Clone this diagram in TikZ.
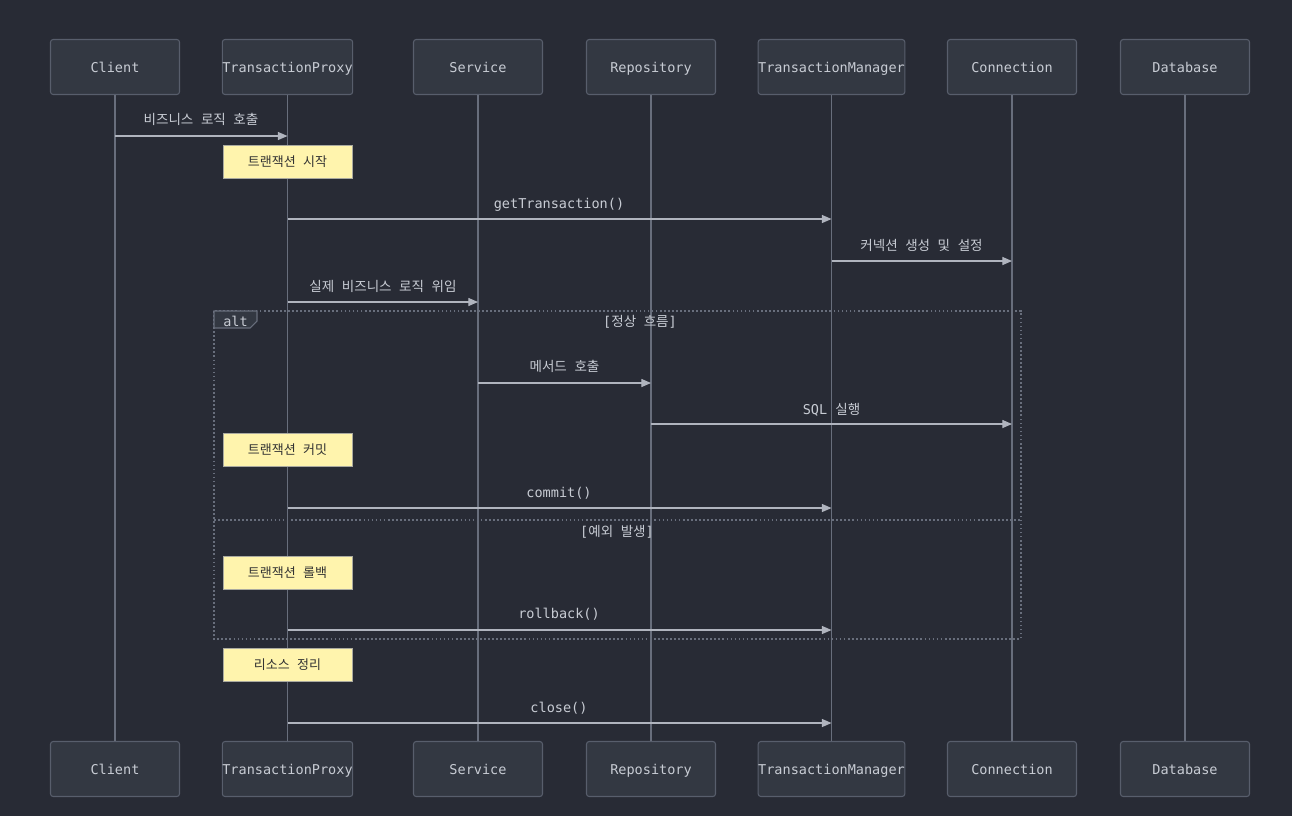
\documentclass[tikz,border=0pt]{standalone}
\usepackage{fontspec}
\setmonofont{DejaVu Sans Mono}
\newfontfamily\kr[WordSpace=2.5]{Noto Sans CJK KR}
\usepackage{xcolor}
\usetikzlibrary{positioning,arrows.meta}

\definecolor{bgc}{RGB}{40,43,53}
\definecolor{actorfill}{RGB}{51,56,66}
\definecolor{actorline}{RGB}{88,94,108}
\definecolor{lifeline}{RGB}{104,110,124}
\definecolor{msgline}{RGB}{176,180,190}
\definecolor{textc}{RGB}{200,204,212}
\definecolor{notefill}{RGB}{255,244,173}
\definecolor{notebd}{RGB}{170,170,160}
\definecolor{notetext}{RGB}{51,51,51}

\begin{document}
\begin{tikzpicture}[
    x=0.02cm, y=-0.02cm,
    actor/.style={rectangle, rounded corners=1.5pt, draw=actorline, fill=actorfill, line width=0.6pt, minimum width=2.58cm, minimum height=1.1cm, inner sep=0pt, text height=1.55ex, text depth=0pt, text=textc, font=\ttfamily\fontsize{7.7}{9}\selectfont},
    life/.style={draw=lifeline, line width=0.6pt},
    msg/.style={draw=msgline, line width=0.6pt, -{Triangle[length=5.5pt,width=4.6pt]}},
    msglabel/.style={inner sep=0pt, text=textc, font=\ttfamily\fontsize{7.7}{9}\selectfont},
    note/.style={rectangle, draw=notebd, fill=notefill, line width=0.5pt, minimum width=2.58cm, minimum height=0.66cm, inner sep=0pt, text=notetext, font=\kr\fontsize{7.4}{9}\selectfont},
    frame/.style={draw=lifeline, line width=0.7pt, dash pattern=on 1pt off 1.3pt}
]
    \fill[bgc] (0,0) rectangle (1292,816);

    % participants
    \node[actor] (client) at (115,67) {Client};
    \node[actor] (proxy) at (287.5,67) {TransactionProxy};
    \node[actor] (service) at (478,67) {Service};
    \node[actor] (repo) at (651,67) {Repository};
    \node[actor, minimum width=2.9cm] (tm) at (831.5,67) {TransactionManager};
    \node[actor] (conn) at (1012,67) {Connection};
    \node[actor] (db) at (1185,67) {Database};

    \node[actor] (clientB) at (115,769) {Client};
    \node[actor] (proxyB) at (287.5,769) {TransactionProxy};
    \node[actor] (serviceB) at (478,769) {Service};
    \node[actor] (repoB) at (651,769) {Repository};
    \node[actor, minimum width=2.9cm] (tmB) at (831.5,769) {TransactionManager};
    \node[actor] (connB) at (1012,769) {Connection};
    \node[actor] (dbB) at (1185,769) {Database};

    \draw[life] (client) -- (clientB); \draw[life] (proxy) -- (proxyB); \draw[life] (service) -- (serviceB); \draw[life] (repo) -- (repoB);
    \draw[life] (tm) -- (tmB); \draw[life] (conn) -- (connB); \draw[life] (db) -- (dbB);

    % alt frame
    \draw[frame] (214,311) rectangle (1021,639);
    \draw[frame] (214,520) -- (1021,520);
    \draw[draw=lifeline, fill=actorfill, line width=0.6pt] (214,311) -- (257,311) -- (257,321) -- (250,328) -- (214,328) -- cycle;
    \node[msglabel] (alt) at (235.5,321) {alt};
    \node[msglabel] (ok) at (640,321.5) {[{\kr 정상 흐름}]};
    \node[msglabel] (err) at (617,531.5) {[{\kr 예외 발생}]};

    % messages
    \draw[msg] (client |- 0,136) -- (proxy |- 0,136);
    \node[msglabel] (m1) at (201,119.5) {\kr 비즈니스 로직 호출};
    \node[note] (n1) at (287.5,161.5) {트랜잭션 시작};

    \draw[msg] (proxy |- 0,219) -- (tm |- 0,219);
    \node[msglabel] (m2) at (559,204.5) {getTransaction()};

    \draw[msg] (tm |- 0,261) -- (conn |- 0,261);
    \node[msglabel] (m3) at (921.5,245.5) {\kr 커넥션 생성 및 설정};

    \draw[msg] (proxy |- 0,302) -- (service |- 0,302);
    \node[msglabel] (m4) at (383,286.5) {\kr 실제 비즈니스 로직 위임};

    \draw[msg] (service |- 0,383) -- (repo |- 0,383);
    \node[msglabel] (m5) at (564.5,366.5) {\kr 메서드 호출};

    \draw[msg] (repo |- 0,424) -- (conn |- 0,424);
    \node[msglabel] (m6) at (831.5,409.5) {SQL {\kr 실행}};

    \node[note] (n2) at (287.5,449.5) {트랜잭션 커밋};
    \draw[msg] (proxy |- 0,508) -- (tm |- 0,508);
    \node[msglabel] (m7) at (559,493.5) {commit()};

    \node[note] (n3) at (287.5,572.5) {트랜잭션 롤백};
    \draw[msg] (proxy |- 0,630) -- (tm |- 0,630);
    \node[msglabel] (m8) at (559,614.5) {rollback()};

    \node[note] (n4) at (287.5,664.5) {리소스 정리};
    \draw[msg] (proxy |- 0,723) -- (tm |- 0,723);
    \node[msglabel] (m9) at (559,708.5) {close()};
\end{tikzpicture}
\end{document}
